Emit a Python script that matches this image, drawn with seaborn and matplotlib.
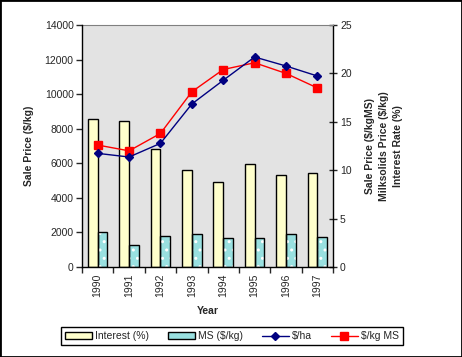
import numpy as np
import pandas as pd
import matplotlib
matplotlib.use("Agg")
import matplotlib.pyplot as plt
import seaborn as sns
from matplotlib.patches import Patch, Rectangle
from matplotlib.lines import Line2D

# values
years = ["1990", "1991", "1992", "1993", "1994", "1995", "1996", "1997"]
interest_pct = [15.3, 15.1, 12.2, 10.0, 8.75, 10.6, 9.5, 9.7]      # right axis
ms_price = [3.58, 2.24, 3.17, 3.37, 2.96, 2.96, 3.37, 3.07]         # right axis
sale_per_ha = [6575, 6364, 7154, 9430, 10800, 12149, 11628, 11050]  # left axis
sale_per_kgms = [12.6, 12.0, 13.8, 18.1, 20.4, 21.1, 20.0, 18.5]    # right axis

YELLOW = "#FFFFCC"
TEAL = "#99E0E0"
NAVY = "#000080"
RED = "#FF0000"
FS = 7.5

sns.set_style("white")
plt.rcParams["font.family"] = ["Liberation Sans", "DejaVu Sans"]

fig = plt.figure(figsize=(4.62, 3.57), dpi=100)
axb = fig.add_axes([0.1775, 0.252, 0.5433, 0.678])
axl = axb.twinx()   # left axis for $/ha (twinx resets axb ticks, so set them after)

# -------------------------------
# bars (right axis units)
# -------------------------------
bars = pd.DataFrame({
    "Year": years * 2,
    "value": interest_pct + ms_price,
    "series": ["Interest (%)"] * len(years) + ["MS ($/kg)"] * len(years),
})
sns.barplot(data=bars, x="Year", y="value", hue="series",
            palette=[YELLOW, TEAL], width=0.62, gap=0, saturation=1,
            edgecolor="black", linewidth=1, legend=False, ax=axb)

# white dot pattern on the teal bars
for p in list(axb.patches):
    if p.get_facecolor()[0] < 0.8:
        axb.add_patch(Rectangle(p.get_xy(), p.get_width(), p.get_height(),
                                fill=False, hatch="..", edgecolor="white",
                                linewidth=0, zorder=p.get_zorder() + 0.1))
        p.set_zorder(p.get_zorder() + 0.2)
        p.set_facecolor("none")
        axb.add_patch(Rectangle(p.get_xy(), p.get_width(), p.get_height(),
                                facecolor=TEAL, edgecolor="none",
                                zorder=p.get_zorder() - 0.3))

# red line, also in right axis units
axb.plot(np.arange(len(years)), sale_per_kgms, color=RED, marker="s",
         markersize=5.5, linewidth=1, zorder=5)

axb.set_ylim(0, 25)
axb.set_xlim(-0.5, len(years) - 0.5)
axb.set_facecolor("#E3E3E3")
axb.yaxis.tick_right()
axb.yaxis.set_label_position("right")
axb.set_yticks(range(0, 26, 5))
axb.tick_params(axis="y", direction="inout", length=6, width=1, labelsize=FS, pad=2,
                right=True, left=False, labelright=True, labelleft=False)
axb.set_xticks(range(len(years)))
axb.set_xticklabels(years, rotation=90, fontsize=FS)
axb.tick_params(axis="x", which="major", length=0, pad=5)
axb.set_xticks(np.arange(-0.5, len(years)), minor=True)
axb.tick_params(axis="x", which="minor", direction="out", length=4, width=1, bottom=True)
axb.set_xlabel("Year", fontsize=FS, fontweight="bold", labelpad=6)
axb.set_ylabel("Sale Price ($/kgMS)\nMilksolids Price ($/kg)\nInterest Rate (%)",
               fontsize=FS, fontweight="bold", labelpad=10, rotation=90,
               multialignment="center", linespacing=1.45)
axb.spines["left"].set_visible(False)
axb.spines["top"].set_color("#808080")
for s in ["right", "bottom"]:
    axb.spines[s].set_color("black")
    axb.spines[s].set_linewidth(1)

# -------------------------------
# left axis: $/ha line
# -------------------------------
axl.patch.set_visible(False)
axl.plot(np.arange(len(years)), sale_per_ha, color=NAVY, marker="D",
         markersize=4.5, linewidth=1, zorder=5)
axl.set_ylim(0, 14000)
axl.set_yticks(range(0, 14001, 2000))
axl.yaxis.tick_left()
axl.yaxis.set_label_position("left")
axl.tick_params(axis="y", direction="out", length=4, width=1, labelsize=FS, pad=2,
                left=True, right=False, labelleft=True, labelright=False)
axl.set_ylabel("Sale Price ($/kg)", fontsize=FS, fontweight="bold", labelpad=8)
for s in ["top", "right", "bottom"]:
    axl.spines[s].set_visible(False)
axl.spines["left"].set_color("black")
axl.spines["left"].set_linewidth(1)

# -------------------------------
# legend + outer frame
# -------------------------------
handles = [
    Patch(facecolor=YELLOW, edgecolor="black", linewidth=1, label="Interest (%)"),
    Patch(facecolor=TEAL, edgecolor="black", linewidth=1, label="MS ($/kg)"),
    Line2D([], [], color=NAVY, marker="D", markersize=4.5, linewidth=1, label="$/ha"),
    Line2D([], [], color=RED, marker="s", markersize=5.5, linewidth=1, label="$/kg MS"),
]
fig.legend(handles=handles, loc="center", bbox_to_anchor=(232 / 462, 1 - 336 / 357),
           ncol=4, fontsize=FS, frameon=True, fancybox=False, edgecolor="black",
           framealpha=1, handlelength=2.6, handleheight=0.6, handletextpad=0.3,
           columnspacing=1.8, borderpad=0.35)

fig.patches.append(Rectangle((0, 0), 1, 1, transform=fig.transFigure, fill=False,
                             edgecolor="black", linewidth=2))

fig.savefig("out.png", dpi=100, facecolor="white")
